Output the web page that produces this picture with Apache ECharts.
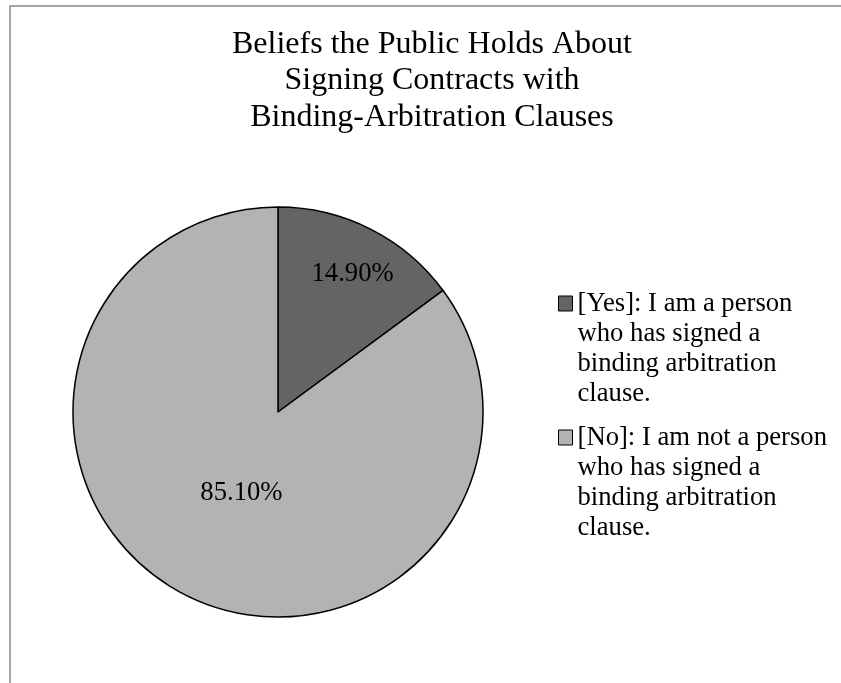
<!DOCTYPE html>
<html>
<head>
<meta charset="utf-8">
<script src="https://cdn.jsdelivr.net/npm/echarts@6/dist/echarts.min.js"></script>
<style>
  html, body { margin: 0; padding: 0; background: #fff; }
  #chart { width: 841px; height: 683px; }
</style>
</head>
<body>
<div id="chart"></div>
<script>
// data
var categories = [
  '[Yes]: I am a person who has signed a binding arbitration clause.',
  '[No]: I am not a person who has signed a binding arbitration clause.'
];
var legendLines = [
  ['[Yes]: I am a person', 'who has signed a', 'binding arbitration', 'clause.'],
  ['[No]: I am not a person', 'who has signed a', 'binding arbitration', 'clause.']
];
var values = [14.9, 85.1];
var colors = ['#646464', '#b3b3b3'];
var titleText = 'Beliefs the Public Holds About\nSigning Contracts with\nBinding-Arbitration Clauses';

var serif = '"Liberation Serif", "Times New Roman", serif';
// nudge the inside labels to where Excel put them
var labelShift = [[27, -44], [11, -13]];

var myChart = echarts.init(document.getElementById('chart'));

var option = {
  backgroundColor: '#fff',
  animation: false,
  color: colors,
  graphic: [{
    type: 'rect',
    silent: true,
    shape: { x: 10, y: 6, width: 1000, height: 1000 },
    style: { fill: 'none', stroke: '#8a8a8a', lineWidth: 1.5 }
  }],
  title: {
    text: titleText,
    left: 427,
    top: 21,
    textAlign: 'center',
    textStyle: {
      fontFamily: serif,
      fontSize: 32,
      fontWeight: 'normal',
      lineHeight: 36.7,
      color: '#000'
    }
  },
  legend: {
    orient: 'vertical',
    left: 553,
    top: 285,
    icon: 'rect',
    itemWidth: 14,
    itemHeight: 15,
    itemGap: 17,
    selectedMode: false,
    itemStyle: { borderColor: '#000', borderWidth: 1 },
    formatter: function (name) {
      // rich text so the top padding really pushes the lines down,
      // keeping the swatch level with the first line
      return legendLines[categories.indexOf(name)].map(function (l) {
        return '{t|' + l + '}';
      }).join('\n');
    },
    textStyle: {
      padding: [90, 0, 0, 0],
      rich: {
        t: {
          fontFamily: serif,
          fontSize: 26.67,
          lineHeight: 30,
          color: '#000'
        }
      }
    },
    data: categories
  },
  series: [{
    type: 'pie',
    center: [278, 412],
    radius: 205,
    startAngle: 90,
    clockwise: true,
    avoidLabelOverlap: false,
    itemStyle: { borderColor: '#000', borderWidth: 1.5 },
    label: {
      show: true,
      position: 'inside',
      fontFamily: serif,
      fontSize: 26.67,
      color: '#000',
      formatter: function (p) {
        return p.value.toFixed(2) + '%';
      }
    },
    labelLine: { show: false },
    labelLayout: function (params) {
      var s = labelShift[params.dataIndex];
      return { dx: s[0], dy: s[1] };
    },
    emphasis: { disabled: true },
    data: categories.map(function (name, i) {
      return { name: name, value: values[i] };
    })
  }]
};

myChart.setOption(option);
</script>
</body>
</html>
